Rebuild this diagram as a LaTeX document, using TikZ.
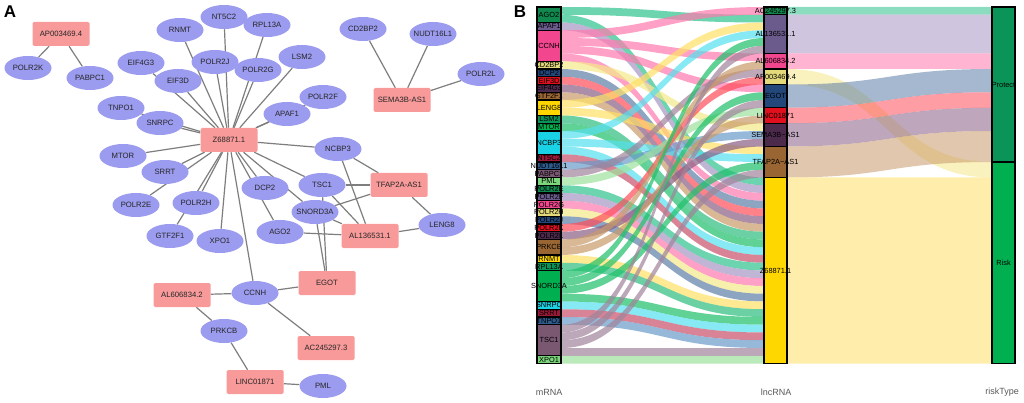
\documentclass[tikz,border=0pt]{standalone}
\usepackage{fontspec}
\setmainfont{Liberation Sans}
\usepackage{tikz}
\usetikzlibrary{shapes.geometric,backgrounds,calc}
\definecolor{genefill}{HTML}{9B9BF0}
\definecolor{lncfill}{HTML}{F89A9A}
\definecolor{edgegray}{HTML}{7E7E7E}
% strata colours
\definecolor{c1}{HTML}{10884E}
\definecolor{c2}{HTML}{6B5B8C}
\definecolor{c3}{HTML}{F2468F}
\definecolor{c4}{HTML}{E3D97A}
\definecolor{c5}{HTML}{23477A}
\definecolor{c6}{HTML}{E0101E}
\definecolor{c7}{HTML}{4C2A4C}
\definecolor{c8}{HTML}{996633}
\definecolor{c9}{HTML}{FFD700}
\definecolor{c10}{HTML}{0B9457}
\definecolor{c11}{HTML}{00B050}
\definecolor{c12}{HTML}{1AD2E6}
\definecolor{c13}{HTML}{9A1838}
\definecolor{c14}{HTML}{2E5B8C}
\definecolor{c15}{HTML}{7A5872}
\definecolor{c16}{HTML}{7CD67C}
% flow colours
\definecolor{f1}{HTML}{2EC28E}
\definecolor{f2}{HTML}{A896C4}
\definecolor{f3}{HTML}{FF7AAE}
\definecolor{f4}{HTML}{F5E98A}
\definecolor{f5}{HTML}{5E7FA8}
\definecolor{f6}{HTML}{FF4D5A}
\definecolor{f7}{HTML}{8A5F85}
\definecolor{f8}{HTML}{C99A6A}
\definecolor{f9}{HTML}{FFE066}
\definecolor{f10}{HTML}{2DBE7E}
\definecolor{f11}{HTML}{1FC06A}
\definecolor{f12}{HTML}{55E0EE}
\definecolor{f13}{HTML}{C8506A}
\definecolor{f14}{HTML}{6A9CCB}
\definecolor{f15}{HTML}{A0849A}
\definecolor{f16}{HTML}{9EE29E}
\tikzset{
    every picture/.style={line width=0.5pt},
    gene/.style={ellipse,fill=genefill,minimum width=47pt,minimum height=24pt,inner sep=0pt,
        label={[font=\fontsize{7.7}{9}\selectfont,text=black!85]center:#1}},
    lnc/.style={rectangle,rounded corners=1.5pt,fill=lncfill,minimum width=57pt,minimum height=24pt,
        inner sep=0pt,font=\fontsize{7.7}{9}\selectfont,text=black!85},
    edge/.style={draw=edgegray,line width=1.2pt},
    stratum/.style={draw=black,line width=1.1pt},
    slabel/.style={font=\fontsize{7.4}{8}\selectfont,inner sep=0pt},
    axislabel/.style={font=\fontsize{9}{10}\selectfont,text=black!65},
    panel/.style={font=\fontsize{17}{20}\selectfont\bfseries}
}
\newcommand{\lflow}[3]{%
  \fill[#3,fill opacity=0.7]
    (561,{7+7.75*#1}) .. controls (662,{7+7.75*#1}) and (662,{7+7.75*#2}) .. (764,{7+7.75*#2})
    -- (764,{14.75+7.75*#2}) .. controls (662,{14.75+7.75*#2}) and (662,{14.75+7.75*#1}) .. (561,{14.75+7.75*#1}) -- cycle;}
\newcommand{\rflow}[4]{%
  \fill[#4,fill opacity=0.55]
    (787,{7+7.75*#1}) .. controls (889,{7+7.75*#1}) and (889,{7+7.75*#2}) .. (992,{7+7.75*#2})
    -- (992,{7+7.75*(#2+#3)}) .. controls (889,{7+7.75*(#2+#3)}) and (889,{7+7.75*(#1+#3)}) .. (787,{7+7.75*(#1+#3)}) -- cycle;}

\begin{document}
\begin{tikzpicture}[x=1pt,y=-1pt]
    \useasboundingbox (0,0) rectangle (1024,403);

    \node[panel] (labA) at (10,12) {A};
    \node[panel] (labB) at (520,12) {B};

    % network
    \node[lnc] (z68871) at (229,140) {Z68871.1};
    \node[lnc] (ap003469) at (61,34) {AP003469.4};
    \node[lnc] (sema3b) at (402,100) {SEMA3B-AS1};
    \node[lnc] (tfap2a) at (399,185) {TFAP2A-AS1};
    \node[lnc] (al136531) at (370,236) {AL136531.1};
    \node[lnc] (egot) at (327,283) {EGOT};
    \node[lnc] (al606834) at (182,295) {AL606834.2};
    \node[lnc] (ac245297) at (326,348) {AC245297.3};
    \node[lnc] (linc01871) at (255,382) {LINC01871};

    \node[gene=POLR2K] (polr2k) at (28,68) {};
    \node[gene=PABPC1] (pabpc1) at (90,78) {};
    \node[gene=RNMT] (rnmt) at (180,30) {};
    \node[gene=NT5C2] (nt5c2) at (224,17) {};
    \node[gene=RPL13A] (rpl13a) at (267,25) {};
    \node[gene=EIF4G3] (eif4g3) at (141,63) {};
    \node[gene=POLR2J] (polr2j) at (215,62) {};
    \node[gene=POLR2G] (polr2g) at (258,70) {};
    \node[gene=EIF3D] (eif3d) at (178,81) {};
    \node[gene=LSM2] (lsm2) at (302,57) {};
    \node[gene=TNPO1] (tnpo1) at (121,108) {};
    \node[gene=SNRPC] (snrpc) at (160,123) {};
    \node[gene=POLR2F] (polr2f) at (323,97) {};
    \node[gene=APAF1] (apaf1) at (287,114) {};
    \node[gene=MTOR] (mtor) at (123,156) {};
    \node[gene=SRRT] (srrt) at (165,172) {};
    \node[gene=NCBP3] (ncbp3) at (338,149) {};
    \node[gene=DCP2] (dcp2) at (265,188) {};
    \node[gene=TSC1] (tsc1) at (322,185) {};
    \node[gene=CD2BP2] (cd2bp2) at (363,29) {};
    \node[gene=NUDT16L1] (nudt16l1) at (433,34) {};
    \node[gene=POLR2L] (polr2l) at (481,74) {};
    \node[gene=SNORD3A] (snord3a) at (315,212) {};
    \node[gene=AGO2] (ago2) at (280,232) {};
    \node[gene=LENG8] (leng8) at (442,225) {};
    \node[gene=CCNH] (ccnh) at (255,293) {};
    \node[gene=PRKCB] (prkcb) at (224,331) {};
    \node[gene=PML] (pml) at (323,386) {};
    \node[gene=POLR2E] (polr2e) at (136,205) {};
    \node[gene=POLR2H] (polr2h) at (196,203) {};
    \node[gene=GTF2F1] (gtf2f1) at (170,236) {};
    \node[gene=XPO1] (xpo1) at (220,241) {};

    \begin{scope}[on background layer]
        \fill[white] (0,0) rectangle (1024,403);
        \foreach \g in {ago2,apaf1,ccnh,dcp2,eif3d,eif4g3,gtf2f1,lsm2,mtor,ncbp3,nt5c2,polr2e,
                polr2f,polr2g,polr2h,polr2j,rnmt,rpl13a,snord3a,snrpc,srrt,tnpo1,tsc1,xpo1}
            \draw[edge] (z68871) -- (\g);
        \foreach \l/\g in {ap003469/polr2k,ap003469/pabpc1,sema3b/cd2bp2,sema3b/nudt16l1,sema3b/polr2l,
                tfap2a/leng8,tfap2a/ncbp3,tfap2a/snord3a,tfap2a/tsc1,
                al136531/ago2,al136531/leng8,al136531/ncbp3,al136531/snord3a,al136531/tsc1,
                egot/ccnh,egot/snord3a,egot/tsc1,al606834/ccnh,al606834/prkcb,
                linc01871/prkcb,linc01871/pml,ac245297/ccnh}
            \draw[edge] (\l) -- (\g);
    \end{scope}

    % alluvial
    \foreach \lo/\ro/\n/\col in {0/0/1/f1,1/1/5/f2,6/6/2/f3,8/20/2/f4,10/8/3/f5,13/11/2/f6,
            15/13/3/f7,18/16/4/f8,22/22/24/f9}
        \rflow{\lo}{\ro}{\n}{\col};
    \foreach \m/\l/\col in {0/1/f1,1/22/f1,2/23/f2,3/0/f3,4/6/f3,5/10/f3,6/24/f3,7/15/f4,
            8/25/f5,9/26/f6,10/27/f7,11/28/f8,12/2/f9,13/18/f9,14/29/f10,15/30/f11,
            16/3/f12,17/19/f12,18/31/f12,19/32/f13,20/16/f14,21/8/f15,22/13/f16,
            23/33/f1,24/34/f2,25/35/f3,26/36/f4,27/37/f5,28/9/f6,29/17/f7,30/7/f8,31/14/f8,
            32/38/f9,33/39/f10,34/4/f11,35/11/f11,36/20/f11,37/40/f11,38/41/f12,39/42/f13,
            40/43/f14,41/5/f15,42/12/f15,43/21/f15,44/44/f15,45/45/f16}
        \lflow{\m}{\l}{\col};

    \foreach \name/\lo/\hi/\col in {AGO2/0/2/c1,APAF1/2/3/c2,CCNH/3/7/c3,CD2BP2/7/8/c4,DCP2/8/9/c5,
            EIF3D/9/10/c6,EIF4G3/10/11/c7,GTF2F1/11/12/c8,LENG8/12/14/c9,LSM2/14/15/c10,MTOR/15/16/c11,
            NCBP3/16/19/c12,NT5C2/19/20/c13,NUDT16L1/20/21/c14,PABPC1/21/22/c15,PML/22/23/c16,
            POLR2E/23/24/c1,POLR2F/24/25/c2,POLR2G/25/26/c3,POLR2H/26/27/c4,POLR2J/27/28/c5,
            POLR2K/28/29/c6,POLR2L/29/30/c7,PRKCB/30/32/c8,RNMT/32/33/c9,RPL13A/33/34/c10,
            SNORD3A/34/38/c11,SNRPC/38/39/c12,SRRT/39/40/c13,TNPO1/40/41/c14,TSC1/41/45/c15,XPO1/45/46/c16}
    {
        \draw[stratum,fill=\col] (537,{7+7.75*\lo}) rectangle (561,{7+7.75*\hi});
        \node[slabel] at (549,{7+7.75*(\lo+\hi)/2}) {\name};
    }
    \foreach \name/\lo/\hi/\col in {AC245297.3/0/1/c1,AL136531.1/1/6/c2,AL606834.2/6/8/c3,
            AP003469.4/8/10/c4,EGOT/10/13/c5,LINC01871/13/15/c6,SEMA3B−AS1/15/18/c7,
            TFAP2A−AS1/18/22/c8,Z68871.1/22/46/c9}
    {
        \draw[stratum,fill=\col] (764,{7+7.75*\lo}) rectangle (787,{7+7.75*\hi});
        \node[slabel] at (775.5,{7+7.75*(\lo+\hi)/2}) {\name};
    }
    \foreach \name/\lo/\hi/\col in {Protect/0/20/c10,Risk/20/46/c11}
    {
        \draw[stratum,fill=\col] (992,{7+7.75*\lo}) rectangle (1015,{7+7.75*\hi});
        \node[slabel] at (1003.5,{7+7.75*(\lo+\hi)/2}) {\name};
    }

    \node[axislabel] (axm) at (549,392) {mRNA};
    \node[axislabel] (axl) at (776,392) {lncRNA};
    \node[axislabel] (axr) at (1002,392) {riskType};
\end{tikzpicture}
\end{document}
